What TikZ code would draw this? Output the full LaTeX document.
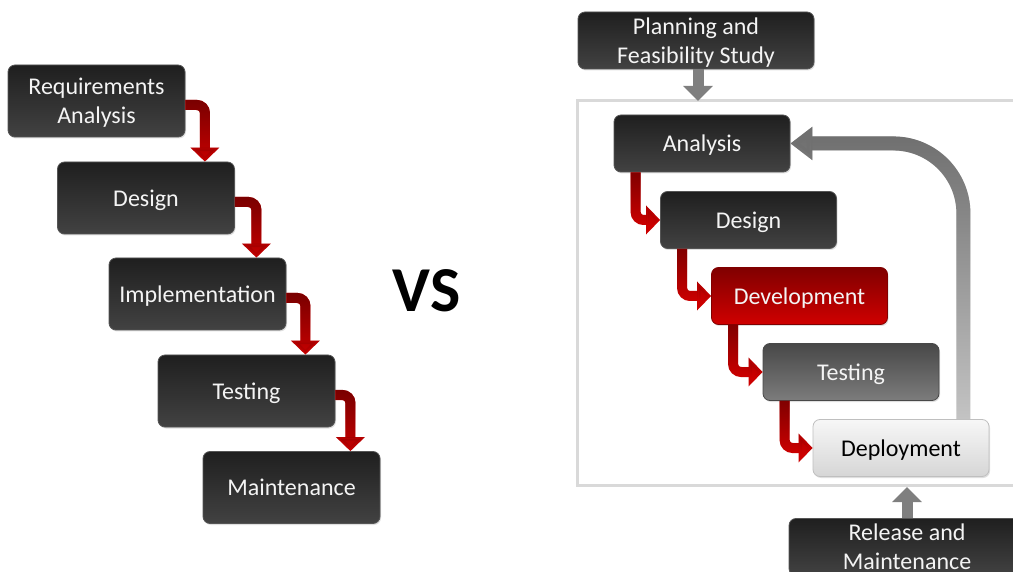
\documentclass[tikz,border=0pt]{standalone}
\usepackage{fontspec}
\setmainfont{Carlito}
\usetikzlibrary{arrows.meta, shadows, fadings}
\definecolor{boxtop}{HTML}{1F1F1F}
\definecolor{boxbot}{HTML}{424242}
\definecolor{boxline}{HTML}{555555}
\definecolor{boxtext}{HTML}{F4F4F4}
\definecolor{devtop}{HTML}{800000}
\definecolor{devbot}{HTML}{D00000}
\definecolor{tsttop}{HTML}{484848}
\definecolor{tstbot}{HTML}{7C7C7C}
\definecolor{deptop}{HTML}{F7F7F7}
\definecolor{depbot}{HTML}{D6D6D6}
\definecolor{flowred}{HTML}{CC0000}
\definecolor{flowdark}{HTML}{7A0000}
\definecolor{upgray}{HTML}{7F7F7F}
\definecolor{backgray}{HTML}{C6C6C6}
\definecolor{backdark}{HTML}{707070}
\definecolor{framegray}{HTML}{D9D9D9}

\begin{document}
\begin{tikzpicture}[x=1pt, y=-1pt,
    stage/.style={rectangle, rounded corners=7pt, draw=boxline, line width=0.8pt,
        top color=boxtop, bottom color=boxbot, text=boxtext, align=center,
        font=\fontsize{24}{29}\selectfont, inner sep=2pt, text depth=0pt,
        minimum width=177pt, minimum height=72pt,
        drop shadow={opacity=0.25, shadow xshift=1pt, shadow yshift=-1.5pt}},
    phase/.style={stage, minimum width=176pt, minimum height=57pt},
    flow/.style={draw=flowred, line width=10pt, rounded corners=8pt,
        -{Triangle[width=28pt, length=14pt]},
        postaction={draw=flowdark, path fading=south}},
    feed/.style={draw=upgray, line width=11pt, -{Triangle[width=29pt, length=15pt]}},
    back/.style={draw=backgray, line width=14pt, rounded corners=70pt,
        -{Triangle[width=32pt, length=22pt]},
        postaction={draw=backdark, path fading=south}}]
    \useasboundingbox (0,0) rectangle (1013,572);

    % waterfall
    \node[stage] at (96.5, 101)   (req) {Requirements\\Analysis};
    \node[stage] at (146, 198)    (des) {Design};
    \node[stage] at (197.5, 294)  (imp) {Implementation};
    \node[stage] at (246.5, 391)  (tst) {Testing};
    \node[stage] at (291.5, 487.5) (mnt) {Maintenance};

    \draw[flow] ([yshift=-4pt]req.east) -| ([xshift=-30pt]des.north east);
    \draw[flow] ([yshift=-4pt]des.east) -| ([xshift=-30pt]imp.north east);
    \draw[flow] ([yshift=-4pt]imp.east) -| ([xshift=-30pt]tst.north east);
    \draw[flow] ([yshift=-4pt]tst.east) -| ([xshift=-30pt]mnt.north east);

    \node[font=\fontsize{64}{64}\bfseries\selectfont] at (426.5, 290.5) (vs) {VS};

    % iterative cycle
    \coordinate (fne) at (1030, 101);
    \coordinate (fnw) at (577, 101);
    \coordinate (fsw) at (577, 485);
    \coordinate (fse) at (1030, 485);
    \draw[framegray, line width=3pt] (fne) -- (fnw) -- (fsw) -- (fse);

    \node[phase, minimum width=236pt] at (696, 40.5) (plan) {Planning and\\Feasibility Study};
    \node[phase] at (702, 143.5)  (ana) {Analysis};
    \node[phase] at (748.5, 220)  (rdes) {Design};
    \node[phase, top color=devtop, bottom color=devbot, draw=devtop] at (799.5, 296) (dev) {Development};
    \node[phase, top color=tsttop, bottom color=tstbot, draw=tsttop] at (851, 372) (rtst) {Testing};
    \node[phase, top color=deptop, bottom color=depbot, draw=black!25, text=black] at (901, 448) (dep) {Deployment};
    \node[phase, minimum width=236pt] at (907, 547) (rel) {Release and\\Maintenance};

    \coordinate (reltip) at (907, 487);
    \draw[feed] ([xshift=2pt]plan.south) -- ([xshift=2pt]plan.south |- fnw);
    \draw[feed] (rel.north) -- (reltip);

    \draw[flow] ([xshift=22pt]ana.south west) |- (rdes.west);
    \draw[flow] ([xshift=22pt]rdes.south west) |- (dev.west);
    \draw[flow] ([xshift=22pt]dev.south west) |- (rtst.west);
    \draw[flow] ([xshift=22pt]rtst.south west) |- (dep.west);

    \draw[back] ([xshift=-26pt]dep.north east) |- (ana.east);
\end{tikzpicture}
\end{document}
